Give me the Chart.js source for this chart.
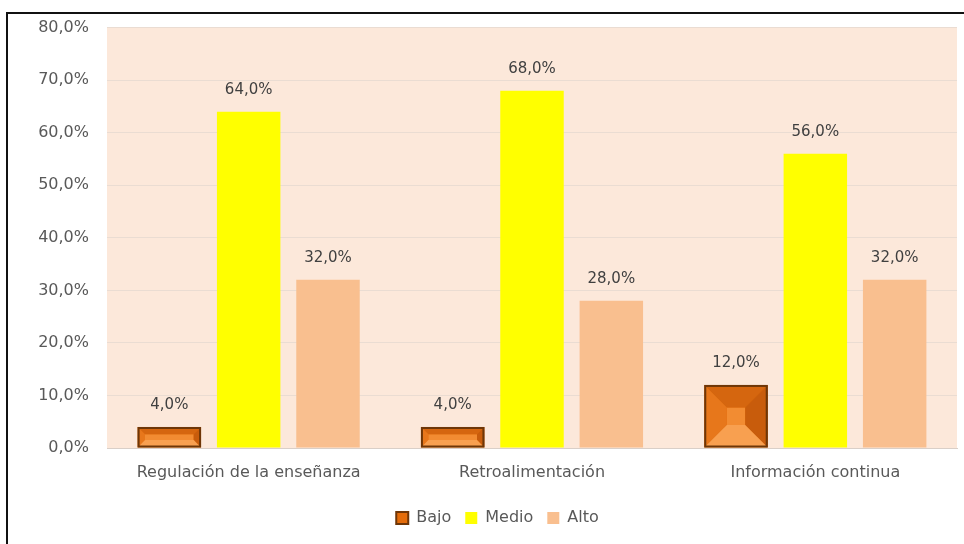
<!DOCTYPE html>
<html>
<head>
<meta charset="utf-8">
<script src="https://cdn.jsdelivr.net/npm/chart.js@4.4.0/dist/chart.umd.min.js"></script>
<style>
  html, body { margin: 0; padding: 0; background: #ffffff; }
  #wrap { position: absolute; left: 0; top: 0; width: 964px; height: 544px; }
  #frame { position: absolute; left: 6px; top: 12px; width: 970px; height: 540px;
           border-top: 2px solid #111; border-left: 2px solid #111; pointer-events: none; }
  canvas { position: absolute; left: 0; top: 0; }
</style>
</head>
<body>
<div id="wrap">
  <canvas id="c" width="964" height="544"></canvas>
  <div id="frame"></div>
</div>
<script>
const categories = ["Regulación de la enseñanza", "Retroalimentación", "Información continua"];
const seriesNames = ["Bajo", "Medio", "Alto"];
const bajo = [4.0, 4.0, 12.0];
const medio = [64.0, 68.0, 56.0];
const alto = [32.0, 28.0, 32.0];
const yTicks = [0, 10, 20, 30, 40, 50, 60, 70, 80];

const FONT = "'DejaVu Sans', Verdana, sans-serif";
const fmt = v => v.toFixed(1).replace('.', ',') + '%';

const plotBg = {
  id: 'plotBg',
  beforeDraw(chart) {
    const {ctx, chartArea: a} = chart;
    ctx.save();
    ctx.fillStyle = '#fce8da';
    ctx.fillRect(a.left, a.top, a.right - a.left, a.bottom - a.top);
    ctx.restore();
  }
};

const bevel = {
  id: 'bevel',
  afterDatasetsDraw(chart) {
    const ctx = chart.ctx;
    const meta = chart.getDatasetMeta(0);
    meta.data.forEach(el => {
      const w = el.width, x0 = el.x - w / 2, x1 = el.x + w / 2;
      const y0 = el.y, y1 = el.base;
      const h = y1 - y0;
      const b = Math.min(h * 0.36, w * 0.4);
      ctx.save();
      const quad = (pts, col) => {
        ctx.beginPath();
        ctx.moveTo(pts[0][0], pts[0][1]);
        for (let i = 1; i < pts.length; i++) ctx.lineTo(pts[i][0], pts[i][1]);
        ctx.closePath();
        ctx.fillStyle = col; ctx.fill();
      };
      quad([[x0 + b, y0 + b], [x1 - b, y0 + b], [x1 - b, y1 - b], [x0 + b, y1 - b]], '#f28c32');
      quad([[x0, y0], [x1, y0], [x1 - b, y0 + b], [x0 + b, y0 + b]], '#d5660f');
      quad([[x0, y0], [x0 + b, y0 + b], [x0 + b, y1 - b], [x0, y1]], '#e7771b');
      quad([[x1, y0], [x1, y1], [x1 - b, y1 - b], [x1 - b, y0 + b]], '#c85c0c');
      quad([[x0, y1], [x0 + b, y1 - b], [x1 - b, y1 - b], [x1, y1]], '#f8a050');
      ctx.strokeStyle = '#6e3607';
      ctx.lineWidth = 2;
      ctx.strokeRect(x0 + 1, y0 + 1, w - 2, h - 2);
      ctx.restore();
    });
  }
};

const dataLabels = {
  id: 'dataLabels',
  afterDatasetsDraw(chart) {
    const ctx = chart.ctx;
    ctx.save();
    ctx.font = '15px ' + FONT;
    ctx.fillStyle = '#404040';
    ctx.textAlign = 'center';
    ctx.textBaseline = 'middle';
    chart.data.datasets.forEach((ds, di) => {
      chart.getDatasetMeta(di).data.forEach((el, i) => {
        ctx.fillText(fmt(ds.data[i]), el.x, el.y - 22);
      });
    });
    ctx.restore();
  }
};

new Chart(document.getElementById('c'), {
  type: 'bar',
  data: {
    labels: categories,
    datasets: [
      { label: seriesNames[0], data: bajo, backgroundColor: '#e46c0a', borderColor: '#6e3607', borderWidth: 2 },
      { label: seriesNames[1], data: medio, backgroundColor: '#ffff00' },
      { label: seriesNames[2], data: alto, backgroundColor: '#f9bf8f' }
    ]
  },
  options: {
    responsive: false,
    animation: false,
    devicePixelRatio: 1,
    categoryPercentage: 0.84,
    barPercentage: 0.8,
    layout: { padding: { left: 38, right: 7, top: 18, bottom: 8 } },
    scales: {
      x: {
        grid: { display: false, drawTicks: false },
        border: { display: true, color: '#d9cfc8' },
        ticks: { color: '#595959', font: { size: 16, family: FONT }, padding: 15 },
        afterFit(s) { s.height = 48; }
      },
      y: {
        min: 0, max: 80,
        afterBuildTicks(s) { s.ticks = yTicks.map(v => ({ value: v })); },
        grid: { color: '#eadcd2', drawTicks: false },
        border: { display: false },
        ticks: { color: '#595959', font: { size: 16, family: FONT }, padding: 18, callback: v => fmt(v) },
        afterFit(s) { s.width = 69; }
      }
    },
    plugins: {
      legend: {
        position: 'bottom',
        labels: { color: '#595959', font: { size: 16, family: FONT }, boxWidth: 12, boxHeight: 12, padding: 14 }
      },
      tooltip: { enabled: false }
    }
  },
  plugins: [plotBg, bevel, dataLabels]
});
</script>
</body>
</html>
